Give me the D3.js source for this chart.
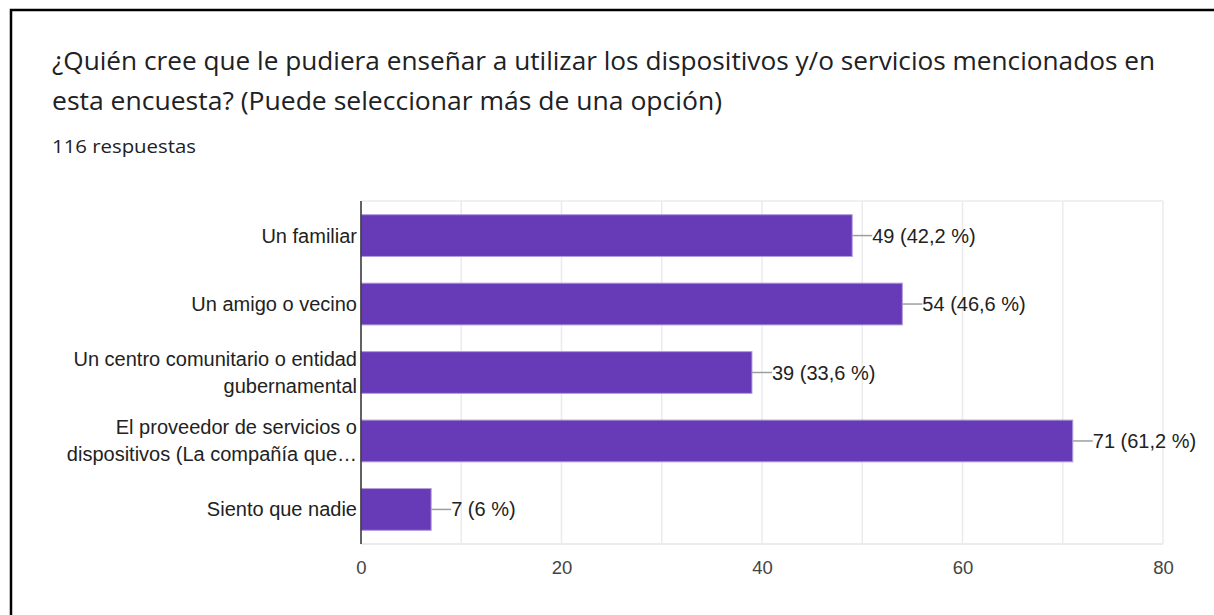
<!DOCTYPE html>
<html>
<head>
<meta charset="utf-8">
<script src="https://cdn.jsdelivr.net/npm/d3@7"></script>
<style>
  body { margin: 0; background: #fff; }
  svg { display: block; }
</style>
</head>
<body>
<script>
// data
let categories = [
  ["Un familiar"],
  ["Un amigo o vecino"],
  ["Un centro comunitario o entidad", "gubernamental"],
  ["El proveedor de servicios o", "dispositivos (La compañía que…"],
  ["Siento que nadie"]
];
let counts = [49, 54, 39, 71, 7];
let percents = ["42,2", "46,6", "33,6", "61,2", "6"];
let ticks = [0, 20, 40, 60, 80];
let minorTicks = [10, 30, 50, 70];

let titleLines = [
  "¿Quién cree que le pudiera enseñar a utilizar los dispositivos y/o servicios mencionados en",
  "esta encuesta? (Puede seleccionar más de una opción)"
];
let titleWidths = [1103, 670];
let subtitle = "116 respuestas";

let W = 1214, H = 615;
let margin = {left: 361, right: 51, top: 201, bottom: 71};
let w = W - margin.left - margin.right;
let h = H - margin.top - margin.bottom;
let font = "Arial, 'Liberation Sans', sans-serif";

let svg = d3.select("body").append("svg").attr("width", W).attr("height", H);

// frame (top + left edge only)
svg.append("path")
   .attr("d", "M11,615 L11,10 L1214,10")
   .attr("fill", "none")
   .attr("stroke", "#000")
   .attr("stroke-width", 2.5);

let title = svg.append("g").attr("font-family", "'Open Sans', Roboto, sans-serif")
   .attr("fill", "#202124");
titleLines.forEach((t, i) => {
  title.append("text").attr("x", 52).attr("y", 70 + i * 40)
       .attr("font-size", 25.5)
       .attr("textLength", titleWidths[i]).attr("lengthAdjust", "spacingAndGlyphs")
       .text(t);
});
svg.append("text").attr("x", 52).attr("y", 153)
   .attr("font-family", "'Open Sans', Roboto, sans-serif").attr("font-size", 18)
   .attr("textLength", 144).attr("lengthAdjust", "spacingAndGlyphs")
   .attr("fill", "#202124").text(subtitle);

let x = d3.scaleLinear().domain([0, 80]).range([0, w]);
let y = d3.scaleBand().domain(d3.range(categories.length)).range([0, h])
          .paddingInner(0.39).paddingOuter(0.2);

let chartGroup = svg.append("g")
   .attr("transform", "translate(" + margin.left + "," + margin.top + ")");

// grid
chartGroup.selectAll("line.grid")
   .data(ticks.concat(minorTicks))
   .enter().append("line")
   .attr("class", "grid")
   .attr("x1", d => x(d)).attr("x2", d => x(d))
   .attr("y1", 0).attr("y2", h)
   .attr("stroke", "#ebebeb").attr("stroke-width", 1.5);
chartGroup.append("line")
   .attr("x1", 0).attr("x2", w).attr("y1", 0).attr("y2", 0)
   .attr("stroke", "#ebebeb").attr("stroke-width", 1.5);
chartGroup.append("line")
   .attr("x1", 0).attr("x2", w).attr("y1", h).attr("y2", h)
   .attr("stroke", "#ebebeb").attr("stroke-width", 2);

// bars
chartGroup.selectAll("rect.bar")
   .data(counts)
   .enter().append("rect")
   .attr("class", "bar")
   .attr("x", 0)
   .attr("y", (d, i) => y(i))
   .attr("width", d => x(d))
   .attr("height", y.bandwidth())
   .attr("fill", "#673ab7")
   .attr("stroke", "#b39ddb")
   .attr("stroke-width", 1);

// leader lines + value labels
let lab = chartGroup.selectAll("g.val")
   .data(counts)
   .enter().append("g")
   .attr("class", "val")
   .attr("transform", (d, i) => "translate(" + x(d) + "," + (y(i) + y.bandwidth() / 2) + ")");
lab.append("line").attr("x1", 0).attr("x2", 20).attr("y1", 0).attr("y2", 0)
   .attr("stroke", "#9e9e9e").attr("stroke-width", 1.5);
lab.append("text").attr("x", 20).attr("dy", "0.35em")
   .attr("font-family", font)
   .attr("font-size", 20).attr("fill", "#222")
   .text((d, i) => d + " (" + percents[i] + " %)");

// category labels
let cat = chartGroup.selectAll("text.cat")
   .data(categories)
   .enter().append("text")
   .attr("class", "cat")
   .attr("text-anchor", "end")
   .attr("font-family", font)
   .attr("font-size", 20).attr("fill", "#222");
cat.each(function(lines, i) {
  let c = y(i) + y.bandwidth() / 2;
  let lh = 27;
  lines.forEach((l, j) => {
    d3.select(this).append("tspan")
      .attr("x", -4)
      .attr("y", c + (j - (lines.length - 1) / 2) * lh)
      .attr("dy", "0.35em")
      .text(l);
  });
});

// x axis
let xAxis = d3.axisBottom(x).tickValues(ticks).tickSize(0).tickPadding(17);
let gx = chartGroup.append("g").attr("transform", "translate(0," + h + ")").call(xAxis);
gx.select(".domain").remove();
gx.selectAll("text").attr("font-family", font)
  .attr("font-size", 18.5).attr("fill", "#444");

// left axis line
chartGroup.append("line").attr("x1", 0).attr("x2", 0).attr("y1", 0).attr("y2", h)
   .attr("stroke", "#333").attr("stroke-width", 1.5);
</script>
</body>
</html>
